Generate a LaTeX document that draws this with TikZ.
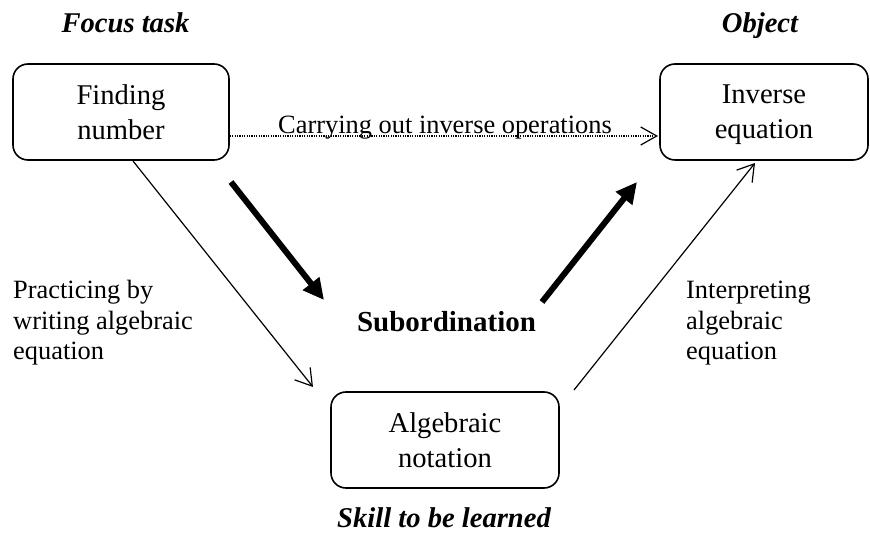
\documentclass[tikz,border=0pt]{standalone}
\usepackage{fontspec}
\setmainfont{Liberation Serif}
\usetikzlibrary{arrows.meta}

\begin{document}
\begin{tikzpicture}[x=1pt,y=-1pt,
  box/.style={draw,line width=1.6pt,rounded corners=15pt,minimum height=96pt,
    inner sep=0pt,align=center,font=\fontsize{28.6}{35}\selectfont},
  heading/.style={anchor=base,font=\fontsize{28.6}{34}\selectfont\bfseries\itshape},
  side/.style={anchor=base west,align=left,inner sep=0pt,
    font=\fontsize{26.4}{30.5}\selectfont},
  thinarrow/.style={line width=1.2pt,-{Straight Barb[length=16pt,width=20pt,line width=1.2pt]}},
  bigarrow/.style={line width=6pt,-{Triangle[length=21pt,width=20pt]}},
  dotarrow/.style={line width=1.2pt,dash pattern=on 1.2pt off 1.2pt,
    -{Straight Barb[length=16pt,width=18pt,line width=1.2pt,sep]}}]
\useasboundingbox (0,0) rectangle (870,534);

% the three activity boxes
\node[box,minimum width=216pt] (fn) at (121,112) {Finding\\number};
\node[box,minimum width=208pt] (ie) at (764,112) {Inverse\\\smash{equation}};
\node[box,minimum width=228pt] (an) at (445,440) {Algebraic\\notation};

% headings of the triangle corners
\node[heading] (focus) at (125.5,33) {Focus task};
\node[heading] (obj) at (760,33) {Object};
\node[heading] (skill) at (444,527) {Skill to be learned};
\node[anchor=base,font=\fontsize{29}{34}\selectfont\bfseries] (sub) at (446.5,332) {Subordination};

% side labels (anchored on the baseline of their last line)
\node[side] (lab1) at (13,360) {Practicing by\\writing algebraic\\equation};
\node[side] (lab2) at (686,360) {Interpreting\\algebraic\\equation};

% connector end points
\coordinate (fnout) at (fn.east |- 0,136);
\coordinate (iein) at (ie.west |- 0,136);
\coordinate (fnbot) at (133,161);
\coordinate (anleft) at (313,387);
\coordinate (anright) at (574,390);
\coordinate (ietop) at (755,163);
\coordinate (t1s) at (231,182);
\coordinate (t1e) at (324,300);
\coordinate (t2s) at (542,302);
\coordinate (t2e) at (637,182);

% dotted top connector with its label
\draw[dotarrow] (fnout) -- (iein);
\node[anchor=base,inner sep=0pt,font=\fontsize{26.4}{30}\selectfont] (carry) at (445,134)
  {Carrying out inverse operations};

% thin side connectors
\draw[thinarrow] (fnbot) -- (anleft);
\draw[thinarrow] (anright) -- (ietop);

% thick subordination arrows
\draw[bigarrow] (t1s) -- (t1e);
\draw[bigarrow] (t2s) -- (t2e);
\end{tikzpicture}
\end{document}
